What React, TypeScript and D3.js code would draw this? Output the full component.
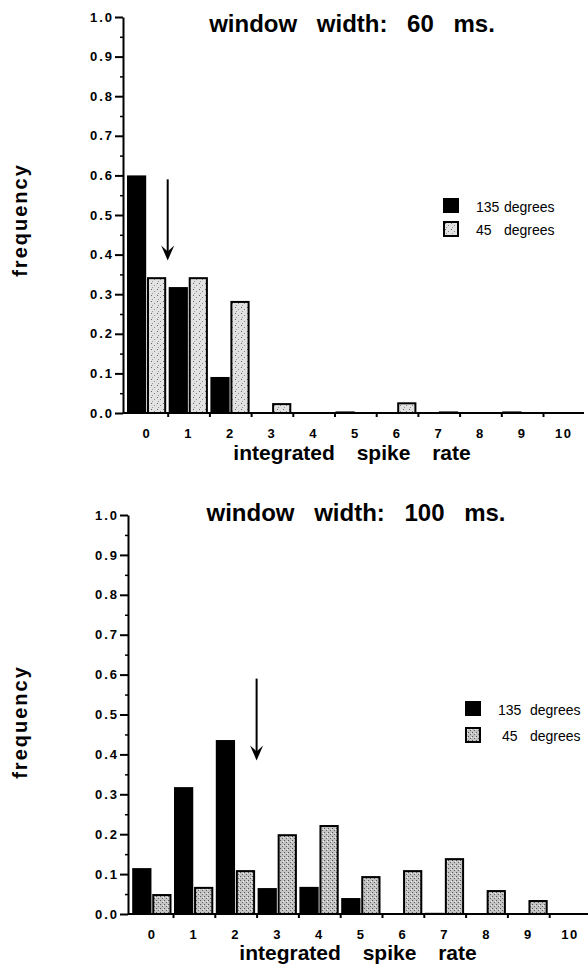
import React, { useEffect, useRef } from 'react';
import * as d3 from 'd3';

// spike rate bins on the x axis
const categories = ['0', '1', '2', '3', '4', '5', '6', '7', '8', '9', '10'];
const seriesLabels = ['135 degrees', '45 degrees'];
const yTicks = [0, 0.1, 0.2, 0.3, 0.4, 0.5, 0.6, 0.7, 0.8, 0.9, 1.0];
const yMinorTicks = [0.05, 0.15, 0.25, 0.35, 0.45, 0.55, 0.65, 0.75, 0.85, 0.95];

const titles = ['window width: 60 ms.', 'window width: 100 ms.'];
const xTitle = 'integrated spike rate';
const yTitle = 'frequency';

// 60 ms window
const w60deg135 = [0.6, 0.318, 0.091, 0, 0, 0.004, 0, 0, 0, 0.004, 0];
const w60deg45 = [0.343, 0.343, 0.283, 0.025, 0, 0, 0.027, 0.004, 0, 0, 0];
// 100 ms window
const w100deg135 = [0.115, 0.318, 0.436, 0.065, 0.068, 0.04, 0, 0.003, 0, 0, 0];
const w100deg45 = [0.05, 0.068, 0.11, 0.2, 0.223, 0.095, 0.11, 0.14, 0.06, 0.035, 0];

// arrow marks: bin boundary and vertical extent (frequency units)
const arrowAt = [1, 3];
const arrowSpan = [0.59, 0.385];

const FONT = 'Liberation Sans, Arial, Helvetica, sans-serif';

const panels = [
  {
    axisX: 123, x0: 126, step: 41.7, xEnd: 584, yTop: 17, yBottom: 413,
    titleX: 352, titleY: 32, xTitleX: 352, xTitleY: 460, yTitleY: 220,
    legendX: 443, legendY: 198, legendGap: 23, numDx: [33, 33], wordDx: 61,
    pattern: 'stipple-light',
  },
  {
    axisX: 128, x0: 131.2, step: 41.8, xEnd: 588, yTop: 515, yBottom: 914,
    titleX: 356, titleY: 521, xTitleX: 358, xTitleY: 960, yTitleY: 722,
    legendX: 465, legendY: 701, legendGap: 26, numDx: [33, 37], wordDx: 65,
    pattern: 'stipple-dark',
  },
];

function Panel({ idx, black, gray }) {
  const ref = useRef(null);

  useEffect(() => {
    const cfg = panels[idx];
    const g = d3.select(ref.current);
    g.selectAll('*').remove();

    const x = d3.scaleBand()
      .domain(categories)
      .range([cfg.x0, cfg.x0 + cfg.step * categories.length]);
    const x1 = d3.scaleBand()
      .domain(seriesLabels)
      .range([1, x.bandwidth() - 1.5])
      .paddingInner(0.04);
    const xb = d3.scaleLinear().domain([0, categories.length]).range(x.range());
    const y = d3.scaleLinear().domain([0, 1]).range([cfg.yBottom, cfg.yTop]);

    // y axis
    const yAxis = g.append('g')
      .attr('transform', `translate(${cfg.axisX},0)`)
      .call(d3.axisLeft(y).tickValues(yTicks).tickSize(8).tickSizeOuter(0).tickPadding(1)
        .tickFormat(d3.format('.1f')));
    yAxis.select('.domain').attr('stroke-width', 2);
    yAxis.selectAll('.tick line').attr('stroke-width', 2);
    yAxis.selectAll('.tick text')
      .attr('font-family', FONT).attr('font-size', 13).attr('font-weight', 'bold')
      .attr('letter-spacing', 2).attr('fill', '#000');

    const yMinor = g.append('g')
      .attr('transform', `translate(${cfg.axisX},0)`)
      .call(d3.axisLeft(y).tickValues(yMinorTicks).tickSize(3).tickFormat(() => ''));
    yMinor.select('.domain').remove();
    yMinor.selectAll('.tick line').attr('stroke-width', 1.5);

    // x axis line + boundary ticks
    g.append('line')
      .attr('x1', cfg.axisX).attr('x2', cfg.xEnd)
      .attr('y1', y(0)).attr('y2', y(0))
      .attr('stroke', '#000').attr('stroke-width', 2);

    const xTickAxis = g.append('g')
      .attr('transform', `translate(0,${y(0)})`)
      .call(d3.axisBottom(xb).tickValues(d3.range(1, categories.length)).tickSize(4).tickFormat(() => ''));
    xTickAxis.select('.domain').remove();
    xTickAxis.selectAll('.tick line').attr('stroke-width', 2);

    const xLabelAxis = g.append('g')
      .attr('transform', `translate(0,${y(0)})`)
      .call(d3.axisBottom(x).tickSize(0).tickPadding(16));
    xLabelAxis.select('.domain').remove();
    xLabelAxis.selectAll('.tick text')
      .attr('font-family', FONT).attr('font-size', 13).attr('font-weight', 'bold')
      .attr('letter-spacing', 1.5).attr('fill', '#000');

    // bars
    const rows = categories.map((c, i) => ({ c, b: black[i], s: gray[i] }));

    g.append('g').selectAll('rect')
      .data(rows.filter(d => d.b > 0))
      .join('rect')
      .attr('x', d => x(d.c) + x1(seriesLabels[0]))
      .attr('y', d => y(d.b))
      .attr('width', x1.bandwidth())
      .attr('height', d => y(0) - y(d.b))
      .attr('fill', '#000');

    g.append('g').selectAll('rect')
      .data(rows.filter(d => d.s > 0))
      .join('rect')
      .attr('x', d => x(d.c) + x1(seriesLabels[1]) + 1)
      .attr('y', d => y(d.s) + 1)
      .attr('width', x1.bandwidth() - 2)
      .attr('height', d => Math.max(0, y(0) - y(d.s) - 1))
      .attr('fill', `url(#${cfg.pattern})`)
      .attr('stroke', '#000')
      .attr('stroke-width', 2);

    // arrow
    const ax = xb(arrowAt[idx]);
    const yA = y(arrowSpan[0]);
    const yB = y(arrowSpan[1]);
    g.append('line')
      .attr('x1', ax).attr('x2', ax).attr('y1', yA).attr('y2', yB - 8)
      .attr('stroke', '#000').attr('stroke-width', 2);
    g.append('path')
      .attr('d', `M${ax - 6.5},${yB - 15}L${ax},${yB - 9}L${ax + 6.5},${yB - 15}L${ax},${yB}Z`)
      .attr('fill', '#000');

    // titles
    g.append('text')
      .attr('x', cfg.titleX).attr('y', cfg.titleY)
      .attr('text-anchor', 'middle')
      .attr('font-family', FONT).attr('font-size', 24).attr('font-weight', 'bold')
      .style('word-spacing', '13px')
      .text(titles[idx]);

    g.append('text')
      .attr('x', cfg.xTitleX).attr('y', cfg.xTitleY)
      .attr('text-anchor', 'middle')
      .attr('font-family', FONT).attr('font-size', 21).attr('font-weight', 'bold')
      .style('word-spacing', '16px')
      .text(xTitle);

    g.append('text')
      .attr('transform', `translate(27,${cfg.yTitleY}) rotate(-90)`)
      .attr('text-anchor', 'middle')
      .attr('font-family', FONT).attr('font-size', 20).attr('font-weight', 'bold')
      .attr('letter-spacing', 2)
      .text(yTitle);

    // legend
    const leg = g.append('g');
    seriesLabels.forEach((lab, i) => {
      const ly = cfg.legendY + i * cfg.legendGap;
      leg.append('rect')
        .attr('x', i === 0 ? cfg.legendX : cfg.legendX + 1)
        .attr('y', i === 0 ? ly : ly + 1)
        .attr('width', i === 0 ? 16 : 14)
        .attr('height', i === 0 ? 15 : 14)
        .attr('fill', i === 0 ? '#000' : `url(#${cfg.pattern})`)
        .attr('stroke', i === 0 ? 'none' : '#000')
        .attr('stroke-width', 2);
      const [num, word] = lab.split(' ');
      leg.append('text')
        .attr('x', cfg.legendX + cfg.numDx[i]).attr('y', ly + 14)
        .attr('font-family', FONT).attr('font-size', 14)
        .text(num);
      leg.append('text')
        .attr('x', cfg.legendX + cfg.wordDx).attr('y', ly + 14)
        .attr('font-family', FONT).attr('font-size', 14)
        .text(word);
    });
  }, [idx, black, gray]);

  return <g ref={ref} />;
}

export default function App() {
  return (
    <svg width={588} height={964} style={{ position: 'absolute', left: 0, top: 0, background: '#fff' }}>
      <defs>
        <pattern id="stipple-light" width={6} height={6} patternUnits="userSpaceOnUse">
          <rect width={6} height={6} fill="#e2e2e2" />
          <rect x={1} y={1} width={1} height={1} fill="#666" />
          <rect x={4} y={3} width={1} height={1} fill="#888" />
          <rect x={2} y={5} width={1} height={1} fill="#999" />
        </pattern>
        <pattern id="stipple-dark" width={4} height={4} patternUnits="userSpaceOnUse">
          <rect width={4} height={4} fill="#c4c4c4" />
          <rect x={0} y={0} width={1} height={1} fill="#555" />
          <rect x={2} y={2} width={1} height={1} fill="#666" />
          <rect x={3} y={1} width={1} height={1} fill="#eee" />
        </pattern>
      </defs>
      <Panel idx={0} black={w60deg135} gray={w60deg45} />
      <Panel idx={1} black={w100deg135} gray={w100deg45} />
    </svg>
  );
}
